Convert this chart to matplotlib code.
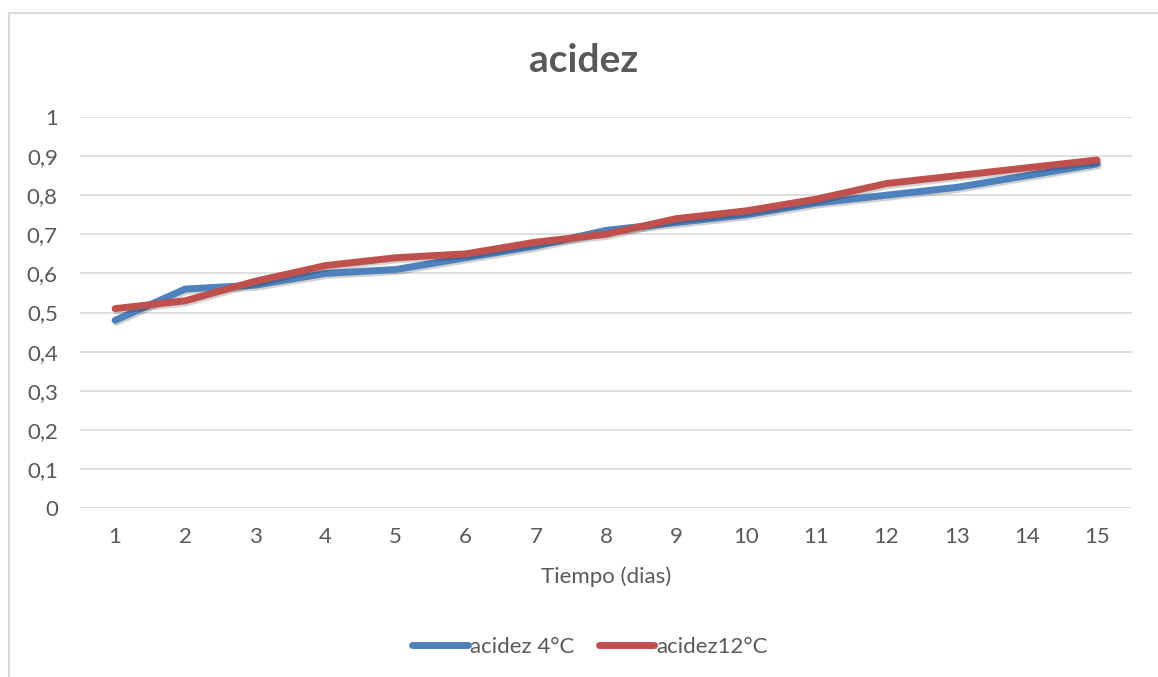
import matplotlib
matplotlib.use('Agg')
import matplotlib.pyplot as plt
import matplotlib.patheffects as pe
from matplotlib.lines import Line2D

plt.rcParams['font.family'] = ['Lato', 'DejaVu Sans']

# Datos
dias = list(range(1, 16))
acidez_4 = [0.48, 0.56, 0.57, 0.60, 0.61, 0.64, 0.67, 0.71, 0.73, 0.75, 0.78, 0.80, 0.82, 0.85, 0.88]
acidez_12 = [0.51, 0.53, 0.58, 0.62, 0.64, 0.65, 0.68, 0.70, 0.74, 0.76, 0.79, 0.83, 0.85, 0.87, 0.89]
etiquetas_y = ['0', '0,1', '0,2', '0,3', '0,4', '0,5', '0,6', '0,7', '0,8', '0,9', '1']

gris = '#595959'
W, H = 1158, 677
fig = plt.figure(figsize=(W / 100, H / 100), dpi=100)
ax = fig.add_axes([80 / W, 1 - 508 / H, 1052 / W, 391 / H])

sombra = [pe.SimpleLineShadow(offset=(1, -1.5), shadow_color='black', alpha=0.18),
          pe.Normal()]
ax.plot(dias, acidez_4, color='#4F81BD', linewidth=5, label='acidez 4°C',
        solid_capstyle='round', solid_joinstyle='round', path_effects=sombra, zorder=3)
ax.plot(dias, acidez_12, color='#C0504D', linewidth=5, label='acidez12°C',
        solid_capstyle='round', solid_joinstyle='round', path_effects=sombra, zorder=4)

ax.set_xlim(0.5, 15.5)
ax.set_ylim(0, 1)
ax.set_xticks(dias)
ax.set_xticklabels([str(d) for d in dias])
ax.set_yticks([i / 10 for i in range(11)])
ax.set_yticklabels(etiquetas_y)
ax.tick_params(length=0, labelsize=16, labelcolor=gris)
ax.tick_params(axis='y', pad=16)
ax.tick_params(axis='x', pad=14)
ax.grid(axis='y', color='#D9D9D9', linewidth=1.2)
ax.set_axisbelow(True)
for s in ax.spines.values():
    s.set_visible(False)

fig.text(584 / W, 1 - 60 / H, 'acidez', ha='center', va='center',
         fontsize=28, fontweight='bold', color=gris)
fig.text(606 / W, 1 - 577 / H, 'Tiempo (dias)', ha='center', va='center',
         fontsize=16, color=gris)

handles = [Line2D([], [], color='#4F81BD', linewidth=5, solid_capstyle='round'),
           Line2D([], [], color='#C0504D', linewidth=5, solid_capstyle='round')]
fig.legend(handles, ['acidez 4°C', 'acidez12°C'], loc='center',
           bbox_to_anchor=(590 / W, 1 - 647 / H), ncol=2, frameon=False,
           fontsize=16, labelcolor=gris, handlelength=2.5, handletextpad=0.1,
           columnspacing=1.1)

# borde del area del grafico
fig.add_artist(Line2D([9 / W, 9 / W], [0, 1 - 13 / H], color='#D9D9D9', linewidth=1.5))
fig.add_artist(Line2D([9 / W, 1], [1 - 13 / H, 1 - 13 / H], color='#D9D9D9', linewidth=1.5))

fig.savefig('out.png', dpi=100)
